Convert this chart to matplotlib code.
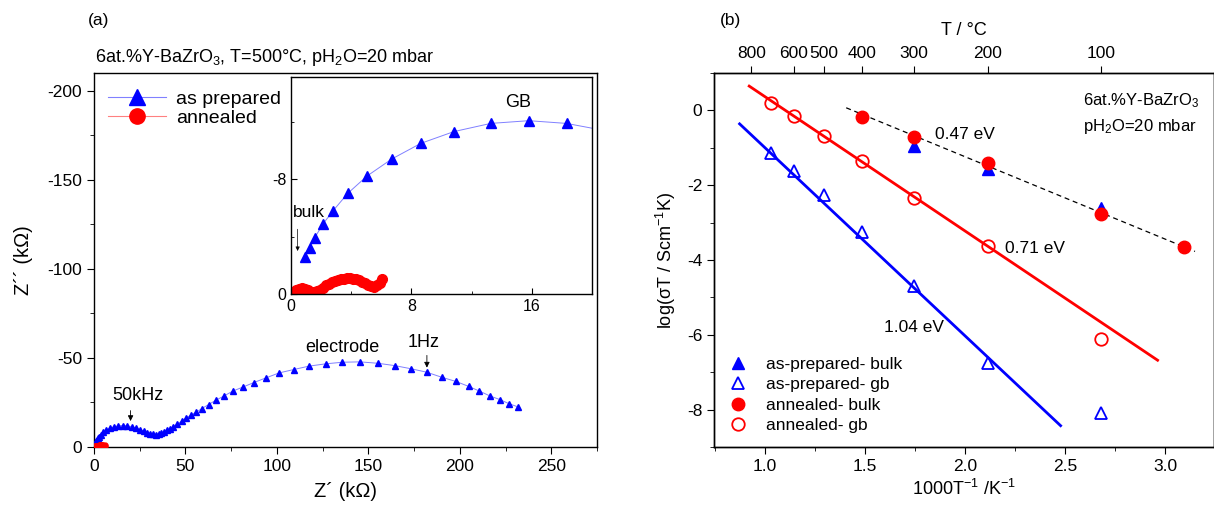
import numpy as np
import matplotlib
matplotlib.use('Agg')
import matplotlib.pyplot as plt
from matplotlib.lines import Line2D
from matplotlib.ticker import MultipleLocator, FixedLocator

plt.rcParams.update({
    'font.family': ['Liberation Sans', 'DejaVu Sans'],
    'mathtext.default': 'regular',
    'axes.unicode_minus': False,
    'font.size': 12,
    'axes.linewidth': 1.0,
})

# ---- panel (a): impedance spectra, Z' and -Z'' in kOhm ----
zre_prep = [0.95, 1.24, 1.58, 2.11, 2.80, 3.77, 5.04, 6.69, 8.62, 10.82, 13.27, 15.8, 18.31,
            20.7, 23.0, 25.2, 27.2, 29.0, 30.7, 32.3, 33.8, 35.3, 36.8, 38.3, 39.9, 41.6,
            43.4, 45.5, 47.9, 50.2, 52.9, 55.8, 59.0, 62.6, 66.5, 71.0, 75.9, 81.3, 87.4,
            94.0, 101.2, 109.2, 117.5, 126.7, 135.8, 145.5, 155.3, 164.4, 173.5, 181.9,
            190.0, 197.9, 204.9, 210.7, 216.6, 222.0, 226.9, 231.9]
zim_prep = [2.6, 3.18, 3.92, 4.85, 5.8, 7.0, 8.2, 9.39, 10.48, 11.3, 11.87, 12.06, 11.87,
            11.4, 10.7, 9.8, 8.9, 8.1, 7.5, 7.1, 7.0, 7.2, 7.7, 8.4, 9.3, 10.3,
            11.4, 12.7, 14.5, 16.2, 17.8, 19.5, 21.6, 23.8, 26.2, 28.6, 31.4, 33.6, 36.2,
            38.8, 41.6, 43.5, 45.4, 46.7, 47.6, 47.8, 47.0, 45.7, 43.9, 42.0,
            39.2, 36.8, 34.0, 31.4, 28.6, 26.6, 24.3, 22.5]

zre_ann = [0.35, 0.5, 0.7, 0.9, 1.1, 1.3, 1.5, 1.7, 1.9, 2.1, 2.3, 2.5, 2.7, 2.9, 3.1,
           3.3, 3.5, 3.7, 3.9, 4.1, 4.3, 4.5, 4.7, 4.9, 5.1, 5.3, 5.5, 5.7, 5.9, 6.07]
zim_ann = [0.28, 0.36, 0.42, 0.38, 0.28, 0.17, 0.12, 0.18, 0.3, 0.45, 0.6, 0.72, 0.82, 0.9,
           0.97, 1.02, 1.06, 1.08, 1.08, 1.06, 1.02, 0.95, 0.86, 0.76, 0.65, 0.56, 0.52,
           0.6, 0.8, 1.05]

# ---- panel (b): Arrhenius data ----
x_gb = [1.028, 1.145, 1.293, 1.486, 1.745, 2.113, 2.680]
prep_gb = [-1.14, -1.63, -2.26, -3.25, -4.70, -6.75, -8.09]
ann_gb = [0.20, -0.16, -0.69, -1.35, -2.34, -3.63, -6.10]
x_prep_bulk = [1.745, 2.113, 2.680]
prep_bulk = [-0.94, -1.56, -2.60]
x_ann_bulk = [1.486, 1.745, 2.113, 2.680, 3.095]
ann_bulk = [-0.18, -0.70, -1.40, -2.76, -3.65]

fit_prep_x, fit_prep_y = [0.873, 2.478], [-0.36, -8.43]
fit_ann_x, fit_ann_y = [0.921, 2.963], [0.65, -6.68]
fit_bulk_x, fit_bulk_y = [1.406, 3.150], [0.07, -3.77]

top_temps = [800, 600, 500, 400, 300, 200, 100]

W, H = 1214, 514
fig = plt.figure(figsize=(W / 100, H / 100), dpi=100)


def box(l, t, r, b):
    return [l / W, 1 - b / H, (r - l) / W, (b - t) / H]


blue = '#0000ff'
red = '#ff0000'
lightblue = '#8080ff'

# ================= (a) =================
ax1 = fig.add_axes(box(94, 73, 597, 447))
ax1.plot(zre_prep, [-v for v in zim_prep], color=lightblue, lw=0.7, marker='^',
         ms=5, mfc=blue, mec=blue, zorder=3)
ax1.plot(zre_ann, [-v for v in zim_ann], color=red, lw=0.7, marker='o', ms=3.5,
         mfc=red, mec=red, zorder=3)
ax1.set_xlim(0, 275)
ax1.set_ylim(0, -210)
ax1.xaxis.set_major_locator(MultipleLocator(50))
ax1.xaxis.set_minor_locator(MultipleLocator(25))
ax1.yaxis.set_major_locator(MultipleLocator(50))
ax1.yaxis.set_minor_locator(MultipleLocator(25))
ax1.tick_params(which='both', direction='out', top=False, right=False, labelsize=12.5)
ax1.tick_params(which='major', length=5)
ax1.tick_params(which='minor', length=3)
ax1.set_xlabel('Z´ (kΩ)', fontsize=14.5, labelpad=6)
ax1.set_ylabel('Z´´ (kΩ)', fontsize=14.5, labelpad=10)

ax1.annotate('', xy=(20, -13), xytext=(20, -22),
             arrowprops=dict(arrowstyle='-|>', color='k', lw=0.6, mutation_scale=8))
ax1.text(24, -24, '50kHz', fontsize=13, ha='center', va='bottom')
ax1.annotate('', xy=(182, -43), xytext=(182, -53),
             arrowprops=dict(arrowstyle='-|>', color='k', lw=0.6, mutation_scale=8))
ax1.text(180, -54, '1Hz', fontsize=13, ha='center', va='bottom')
ax1.text(136, -51, 'electrode', fontsize=13, ha='center', va='bottom')

handles = [Line2D([0], [0], color=lightblue, lw=0.8, marker='^', ms=11, mfc=blue, mec=blue),
           Line2D([0], [0], color='#ff8080', lw=0.8, marker='o', ms=11, mfc=red, mec=red)]
ax1.legend(handles, ['as prepared', 'annealed'], loc='upper left', frameon=False,
           fontsize=14, handlelength=3.0, handletextpad=0.5, labelspacing=0.05,
           borderaxespad=0.3, bbox_to_anchor=(0.0, 0.99))

fig.text(95 / W, 1 - 57 / H, '6at.%Y-BaZrO$_3$, T=500°C, pH$_2$O=20 mbar',
         fontsize=13, va='center', ha='left')
fig.text(88 / W, 1 - 20 / H, '(a)', fontsize=12.5, va='center', ha='left')

# inset
ins = fig.add_axes(box(291, 77, 592, 294))
ins.plot(zre_prep, [-v for v in zim_prep], color=lightblue, lw=0.7, marker='^',
         ms=7, mfc=blue, mec=blue)
ins.plot(zre_ann, [-v for v in zim_ann], color=red, lw=0.7, marker='o', ms=7,
         mfc=red, mec=red)
ins.set_xlim(0, 20)
ins.set_ylim(0, -15.1)
ins.xaxis.set_major_locator(MultipleLocator(8))
ins.xaxis.set_minor_locator(MultipleLocator(4))
ins.yaxis.set_major_locator(MultipleLocator(8))
ins.yaxis.set_minor_locator(MultipleLocator(4))
ins.tick_params(which='both', direction='in', top=False, right=False, labelsize=11.5)
ins.tick_params(which='major', length=4)
ins.tick_params(which='minor', length=2.5)
ins.text(15.1, -13.3, 'GB', fontsize=13, ha='center', va='center')
ins.text(1.17, -5.66, 'bulk', fontsize=12.5, ha='center', va='center')
ins.annotate('', xy=(0.44, -2.8), xytext=(0.44, -4.7),
             arrowprops=dict(arrowstyle='-|>', color='k', lw=0.5, mutation_scale=6))

# ================= (b) =================
ax2 = fig.add_axes(box(714, 73, 1214, 447))
ax2.plot(fit_prep_x, fit_prep_y, color=blue, lw=2)
ax2.plot(fit_ann_x, fit_ann_y, color=red, lw=2)
ax2.plot(fit_bulk_x, fit_bulk_y, color='k', lw=0.9, ls=(0, (4, 3)))
ax2.plot(x_prep_bulk, prep_bulk, ls='none', marker='^', ms=9, mfc=blue, mec=blue,
         label='as-prepared- bulk')
ax2.plot(x_gb, prep_gb, ls='none', marker='^', ms=9, mfc='none', mec=blue, mew=1.3,
         label='as-prepared- gb')
ax2.plot(x_ann_bulk, ann_bulk, ls='none', marker='o', ms=9, mfc=red, mec=red,
         label='annealed- bulk')
ax2.plot(x_gb, ann_gb, ls='none', marker='o', ms=9, mfc='none', mec=red, mew=1.3,
         label='annealed- gb')
ax2.set_xlim(0.745, 3.245)
ax2.set_ylim(-9, 1)
ax2.xaxis.set_major_locator(MultipleLocator(0.5))
ax2.xaxis.set_minor_locator(MultipleLocator(0.25))
ax2.yaxis.set_major_locator(MultipleLocator(2))
ax2.yaxis.set_minor_locator(MultipleLocator(1))
ax2.tick_params(which='both', direction='out', top=False, right=True, labelsize=12.5)
ax2.tick_params(which='major', length=5)
ax2.tick_params(which='minor', length=3)
ax2.xaxis.set_major_formatter(plt.FormatStrFormatter('%.1f'))
ax2.set_xlabel('1000T$^{-1}$ /K$^{-1}$', fontsize=13)
ax2.set_ylabel('log($\\sigma$T / Scm$^{-1}$K)', fontsize=13, labelpad=6)

ax2.text(2.0, -0.65, '0.47 eV', fontsize=12.5, ha='center', va='center')
ax2.text(2.35, -3.69, '0.71 eV', fontsize=12.5, ha='center', va='center')
ax2.text(1.745, -5.8, '1.04 eV', fontsize=12.5, ha='center', va='center')
ax2.text(2.59, 0.27, '6at.%Y-BaZrO$_3$', fontsize=12, ha='left', va='center')
ax2.text(2.59, -0.42, 'pH$_2$O=20 mbar', fontsize=12, ha='left', va='center')

ax2.legend(loc='lower left', frameon=False, fontsize=12.5, handlelength=1.2,
           handletextpad=1.0, labelspacing=0.3, borderaxespad=0.4)

top = ax2.twiny()
top.set_xlim(ax2.get_xlim())
top.xaxis.set_major_locator(FixedLocator([1000 / (t + 273.15) for t in top_temps]))
top.set_xticklabels([str(t) for t in top_temps])
top.tick_params(which='both', direction='out', length=5, labelsize=12.5)
top.set_xlabel('T / °C', fontsize=13, labelpad=8)

fig.text(720 / W, 1 - 20 / H, '(b)', fontsize=12.5, va='center', ha='left')

fig.savefig('out.png', dpi=100)
